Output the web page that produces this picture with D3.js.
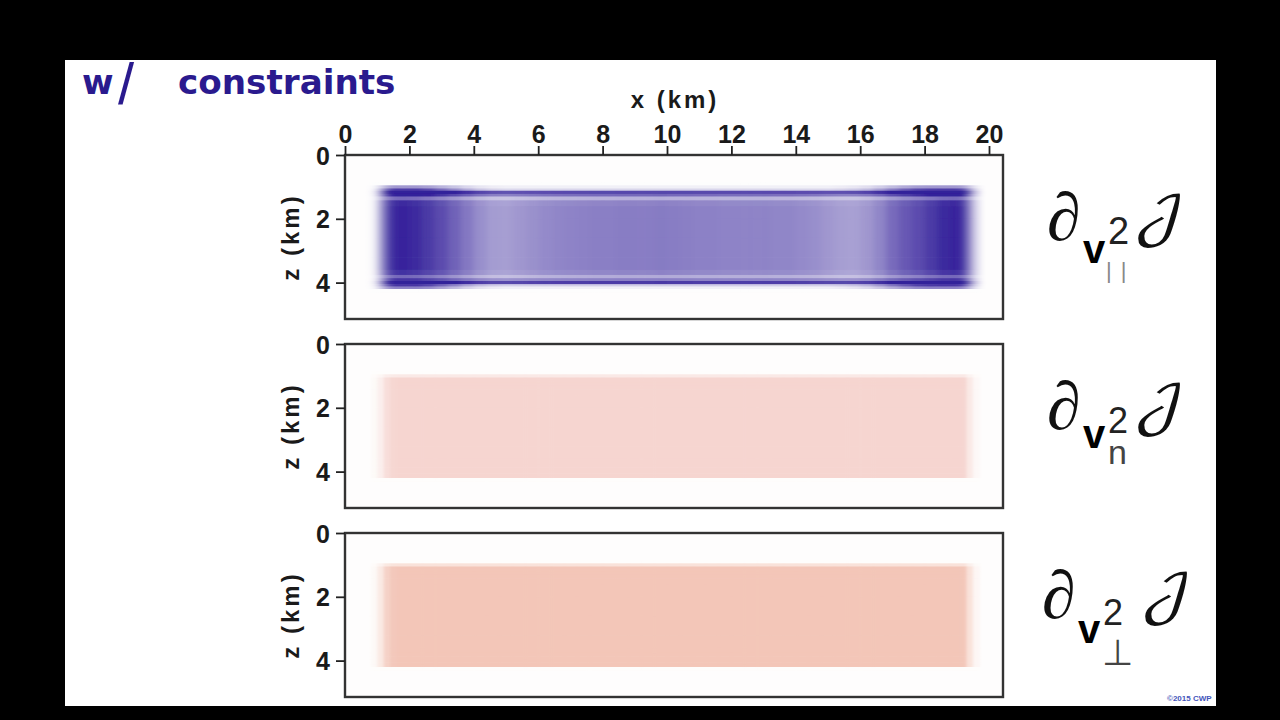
<!DOCTYPE html>
<html><head><meta charset="utf-8">
<script src="https://cdn.jsdelivr.net/npm/d3@7/dist/d3.min.js"></script>
<style>html,body{margin:0;background:#000}svg{display:block}</style></head>
<body><svg id="c" width="1280" height="720"></svg>
<script>
const xTicks=[0,2,4,6,8,10,12,14,16,18,20];
const zTicks=[0,2,4];
const xEdges=[0.8,1.0,1.2,1.4,1.6,2,2.4,2.8,3.2,3.6,4,4.4,4.8,5.2,5.6,6,6.4,6.8,7.2,7.6,8,8.4,8.8,9.2,9.6,10,10.4,10.8,11.2,11.6,12,12.4,12.8,13.2,13.6,14,14.4,14.8,15.2,15.6,16,16.4,16.8,17.2,17.6,18,18.4,18.8,19.1,19.3,19.5,19.7];
const zEdges=[0.85,0.95,1.05,1.12,1.22,1.3,1.42,1.6,2,2.6,3.2,3.6,3.76,3.86,3.95,4.05,4.12,4.2,4.3];
const bodyPar=[0.05,0.4,0.78,0.95,0.98,0.95,0.88,0.8,0.7,0.6,0.5,0.44,0.43,0.46,0.49,0.52,0.54,0.55,0.56,0.57,0.57,0.58,0.58,0.58,0.59,0.58,0.57,0.56,0.56,0.55,0.55,0.55,0.55,0.54,0.54,0.52,0.5,0.46,0.43,0.42,0.46,0.54,0.66,0.74,0.8,0.88,0.96,0.98,0.9,0.55,0.18];
const capPar=[0.05,0.4,0.8,1,1,1,0.9,0.7,0.5,0.28,0.12,0.04,0,0,0,0,0,0,0,0,0,0,0,0,0,0,0,0,0,0,0,0,0,0,0,0,0,0,0.04,0.1,0.2,0.38,0.6,0.8,0.95,1,1,1,0.9,0.55,0.18];
const linePar=[0.05,0.3,0.7,1,1,1,1,1,1,1,1,1,1,1,1,1,1,1,1,1,1,1,1,1,1,1,1,1,1,1,1,1,1,1,1,1,1,1,1,1,1,1,1,1,1,1,1,1,0.95,0.55,0.18];
const rowBody=[0,0,0.1,0.35,0.75,0.6,0.95,1,1,1,1,0.94,0.64,0.6,0.45,0.1,0,0];
const rowLine=[0,0.06,0.12,0.62,0.24,0,0,0,0,0,0,0,0,0.22,0.62,0.16,0.06,0];
const rowCap=[0,0.4,0.65,0.3,0.1,0.08,0.02,0,0,0,0,0,0.05,0.1,0.15,0.65,0.5,0];
const bandNorm=[0.08,0.35,0.78,0.96,1,1,1,0.995,1,0.995,1,1,0.995,1,0.995,1,1,1,1,1,1,1,1,1,1,1,1,1,1,1,1,1,1,1,1,1,1,1,1,1,1,1,1,1,1,1,1,1,0.98,0.5,0.12];
const rowNorm=[0,0.5,1,1,1,1,1,1,1,1,1,1,1,1,1,1,1,0];
const axisTitleX="x (km)";
const axisTitleZ="z (km)";
const slideTitle=["w","/","constraints"];
const subscripts=["||","n","⊥"];
const panelTops=[155,344,533];
const panelLevels=[null,1,1];
const panelPinks=[null,"#f6d5d0","#f3c6b8"];

const W=658,H=164;
const svg=d3.select("#c");
svg.append("rect").attr("width",1280).attr("height",720).attr("fill","#000");
svg.append("rect").attr("x",65).attr("y",60).attr("width",1151).attr("height",646).attr("fill","#fff");
const defs=svg.append("defs");
const f=defs.append("filter").attr("id","soft").attr("x","-5%").attr("y","-20%").attr("width","110%").attr("height","140%");
f.append("feGaussianBlur").attr("stdDeviation","3 0.6");
const f2=defs.append("filter").attr("id","softp").attr("x","-5%").attr("y","-20%").attr("width","110%").attr("height","140%");
f2.append("feGaussianBlur").attr("stdDeviation","1.6 0.6");
const x=d3.scaleLinear().domain([0,20]).range([0,644]);
const z=d3.scaleLinear().domain([0,5]).range([0,159.5]);
const blue=d3.scaleLinear().domain([0,1]).range(["#fdfdfd","#33209a"]).clamp(true);
const font="'Liberation Sans',Arial,sans-serif";

panelTops.forEach((top,p)=>{
  const g=svg.append("g").attr("transform",`translate(345,${top})`);
  g.append("rect").attr("width",W).attr("height",H).attr("fill","#fefdfd");
  const pink=d3.scaleLinear().domain([0,1]).range(["#fefdfc",panelPinks[p]||"#fff"]).clamp(true);
  const cells=[];
  zEdges.slice(0,-1).forEach((z0,j)=>{
    xEdges.slice(0,-1).forEach((x0,i)=>{
      const val=p===0
        ? rowBody[j]*bodyPar[i]+rowLine[j]*linePar[i]+rowCap[j]*capPar[i]
        : panelLevels[p]*bandNorm[i]*rowNorm[j];
      cells.push({x0,x1:xEdges[i+1],z0,z1:zEdges[j+1],val});
    });
  });
  g.append("g").attr("filter",p===0?"url(#soft)":"url(#softp)").selectAll("rect").data(cells).join("rect")
    .attr("x",d=>x(d.x0)).attr("y",d=>z(d.z0))
    .attr("width",d=>x(d.x1)-x(d.x0)+0.6).attr("height",d=>z(d.z1)-z(d.z0)+0.6)
    .attr("fill",d=>p===0?blue(d.val):pink(d.val));
  g.append("rect").attr("width",W).attr("height",H).attr("fill","none").attr("stroke","#333").attr("stroke-width",2.4);
  const yAxis=d3.axisLeft(z).tickValues(zTicks).tickSize(9).tickPadding(6).tickFormat(d3.format("d"));
  const ya=g.append("g").call(yAxis);
  ya.select(".domain").remove();
  ya.selectAll("line").attr("stroke","#222").attr("stroke-width",1.8);
  ya.selectAll("text").attr("font-family",font).attr("font-weight",700).attr("font-size",25).attr("fill","#1a1a1a").attr("dy","0.36em");
  g.append("text").attr("transform",`translate(-46,82) rotate(-90)`).attr("text-anchor","middle")
    .attr("font-family",font).attr("font-weight",700).attr("font-size",24).attr("letter-spacing",3).attr("fill","#1a1a1a").text(axisTitleZ);
  if(p===0){
    const xAxis=d3.axisTop(x).tickValues(xTicks).tickSize(9).tickPadding(3).tickFormat(d3.format("d"));
    const xa=g.append("g").call(xAxis);
    xa.select(".domain").remove();
    xa.selectAll("line").attr("stroke","#222").attr("stroke-width",1.8);
    xa.selectAll("text").attr("font-family",font).attr("font-weight",700).attr("font-size",25).attr("fill","#1a1a1a");
    g.append("text").attr("x",330).attr("y",-47).attr("text-anchor","middle")
      .attr("font-family",font).attr("font-weight",700).attr("font-size",24).attr("letter-spacing",3).attr("fill","#1a1a1a").text(axisTitleX);
  }
  const m=svg.append("g").attr("transform",`translate(0,${top-155})`);
  const dx=p===2?-5:0, jx=p===2?7:0;
  const mt=(t,xp,yp,fs,fam,w,fill)=>m.append("text").attr("x",xp).attr("y",yp).attr("font-size",fs).attr("font-family",fam).attr("font-weight",w||400).attr("fill",fill||"#111").text(t);
  mt("∂",1047+dx,240,68,"'Liberation Serif'").attr("font-style","italic");
  mt("v",1083+dx,p===0?263:p===1?259:265,40,"'Liberation Sans'",700,"#000");
  mt("2",1108+dx,p===2?247:244,p===0?38:36,"'Liberation Sans'",400,"#222");
  if(p===0) mt(subscripts[0],1106,278,22,"'Liberation Sans'",400,"#888").attr("letter-spacing",9);
  if(p===1) mt(subscripts[1],1108,275,34,"'Liberation Sans'",400,"#444");
  if(p===2) mt(subscripts[2],1102,287,36,"'DejaVu Sans'",400,"#444");
  m.append("text").attr("transform",`translate(${1133+jx},${234}) scale(1.25,1)`).attr("font-size",52)
    .attr("font-family","'DejaVu Math TeX Gyre','DejaVu Serif'").attr("fill","#111").text("𝒥");
});
const tt=svg.append("text").attr("y",94).attr("font-family","'DejaVu Sans'").attr("font-weight",700).attr("font-size",34.2).attr("fill","#2a1a8e");
tt.append("tspan").attr("x",82).text(slideTitle[0]);
tt.append("tspan").attr("x",118).attr("y",104).attr("font-family","'Liberation Sans'").attr("font-weight",400).attr("font-size",58).text(slideTitle[1]);
tt.append("tspan").attr("x",178).attr("y",94).text(slideTitle[2]);
svg.append("text").attr("x",1167).attr("y",701).attr("font-family",font).attr("font-weight",700).attr("font-size",8).attr("fill","#4455bb").text("©2015 CWP");
</script></body></html>
